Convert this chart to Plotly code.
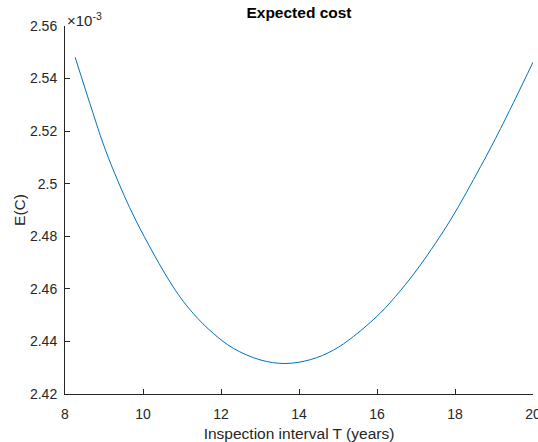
import plotly.graph_objects as go

# Inspection interval T (years)
T = [8.26, 8.715, 8.972, 9.272, 9.812, 10.771, 11.285, 11.80, 12.314, 13.0,
     13.64, 14.3, 14.884, 15.398, 16.085, 16.599, 17.113, 17.884, 18.656, 19.17, 20.0]
# Expected cost E(C), in units of 1e-3
EC = [2.5481, 2.5270, 2.5155, 2.5040, 2.4862, 2.4608, 2.4507, 2.4431, 2.4374, 2.4330,
      2.4316, 2.4331, 2.4367, 2.4419, 2.4508, 2.4593, 2.4691, 2.4862, 2.5065, 2.5210, 2.5462]

x_ticks = [8, 10, 12, 14, 16, 18, 20]
y_ticks = [2.42, 2.44, 2.46, 2.48, 2.50, 2.52, 2.54, 2.56]
y_ticklabels = ["2.42", "2.44", "2.46", "2.48", "2.5", "2.52", "2.54", "2.56"]

axis_col = "#262626"
font = "Liberation Sans, Arial, Helvetica, sans-serif"
W, H = 538, 442

fig = go.Figure()
fig.add_trace(go.Scatter(x=T, y=EC, mode="lines",
                         line=dict(color="#0072BD", width=1, shape="spline", smoothing=1.0),
                         hoverinfo="skip", showlegend=False))

fig.update_layout(
    width=W, height=H,
    margin=dict(l=65, r=5, t=26, b=48),
    paper_bgcolor="white", plot_bgcolor="white",
    font=dict(family=font, color=axis_col, size=14),
    title=dict(text="<b>Expected cost</b>", x=0.5, xref="paper", xanchor="center",
               y=1 - 13.0 / H, yref="container", yanchor="middle",
               font=dict(size=15.5, color="black")),
    xaxis=dict(range=[8, 20], tickvals=x_ticks, ticks="inside", ticklen=5, tickcolor=axis_col,
               showline=True, linecolor=axis_col, linewidth=1, showgrid=False, zeroline=False,
               automargin=False, ticklabelstandoff=7, ticklabeloverflow="allow",
               title=dict(text="Inspection interval T (years)", font=dict(size=15.5), standoff=8),
               tickfont=dict(size=14)),
    yaxis=dict(range=[2.42, 2.56], tickvals=y_ticks, ticktext=y_ticklabels, ticks="inside",
               ticklen=5, tickcolor=axis_col, showline=True, linecolor=axis_col, linewidth=1,
               showgrid=False, zeroline=False, automargin=False, ticklabelstandoff=4,
               ticklabeloverflow="allow",
               title=dict(text="E(C)", font=dict(size=15.5), standoff=0),
               tickfont=dict(size=14)),
    annotations=[dict(text="×10<sup>-3</sup>", xref="paper", yref="paper", x=0, y=1,
                      xanchor="left", yanchor="bottom", showarrow=False,
                      font=dict(size=15, color=axis_col), xshift=0, yshift=-5)],
)

fig.write_html("out.html", config={"displayModeBar": False},
               post_script="document.body.style.margin='0px';")
